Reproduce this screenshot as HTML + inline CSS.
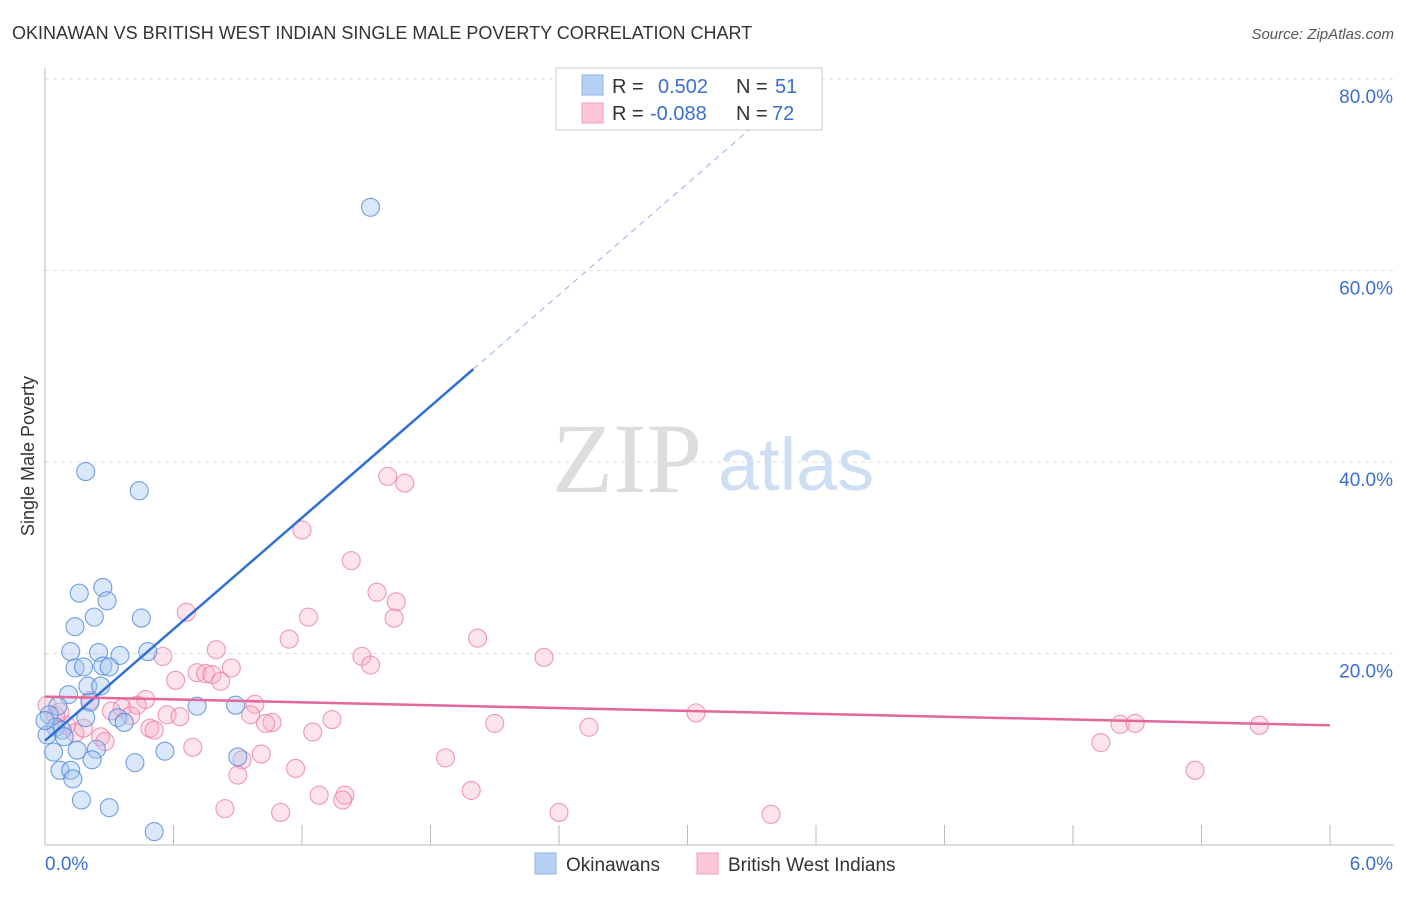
<!DOCTYPE html>
<html><head><meta charset="utf-8"><style>
body{margin:0;background:#fff;font-family:"Liberation Sans",sans-serif;}
svg text{font-family:"Liberation Sans",sans-serif;}
</style></head><body>
<svg id="chart" width="1406" height="892" xmlns="http://www.w3.org/2000/svg">
<text x="12" y="39" font-size="18" fill="#333">OKINAWAN VS BRITISH WEST INDIAN SINGLE MALE POVERTY CORRELATION CHART</text>
<text x="1394" y="39" font-size="15" fill="#555" text-anchor="end" font-style="italic">Source: ZipAtlas.com</text>
<g>
<text x="552" y="492" font-size="100" fill="#ddd" style="font-family:'Liberation Serif',serif">ZIP</text>
<text x="718" y="490" font-size="74" fill="#cfdff3">atlas</text>
</g>
<g id="grid"></g>
<g id="axes"></g>
<g id="pts"></g>
<g id="lines"></g>
<text transform="translate(34,456) rotate(-90)" font-size="18" fill="#333" text-anchor="middle">Single Male Poverty</text>
<g>
<rect x="556" y="68" width="266" height="62" fill="#fff" stroke="#ccc"/>
<rect x="582" y="75" width="21" height="20" fill="#b7d1f5" stroke="#8fb2e6"/>
<rect x="582" y="103" width="21" height="20" fill="#fcc6d6" stroke="#f0a0ba"/>
<text x="612" y="93" font-size="20" fill="#333">R =</text>
<text x="658" y="93" font-size="20" fill="#3a6fd0">0.502</text>
<text x="736" y="93" font-size="20" fill="#333">N =</text>
<text x="775" y="93" font-size="20" fill="#3a6fd0">51</text>
<text x="612" y="120" font-size="20" fill="#333">R =</text>
<text x="650" y="120" font-size="20" fill="#3a6fd0">-0.088</text>
<text x="736" y="120" font-size="20" fill="#333">N =</text>
<text x="772" y="120" font-size="20" fill="#3a6fd0">72</text>
</g>
<g>
<rect x="535" y="853" width="21" height="21" fill="#b7d1f5" stroke="#8fb2e6"/>
<text x="566" y="871" font-size="19" fill="#333">Okinawans</text>
<rect x="697" y="853" width="21" height="21" fill="#fcc6d6" stroke="#f0a0ba"/>
<text x="728" y="871" font-size="19" fill="#333">British West Indians</text>
</g>
</svg>
<script>
const blueX=[0.19,0.44,1.52,0.16,0.27,0.29,0.14,0.23,0.45,0.12,0.25,0.35,0.48,0.14,0.18,0.27,0.30,0.11,0.20,0.26,0.21,0.71,0.89,0.06,0.02,0.19,0.34,0.05,0.08,0.01,0.09,0.04,0.15,0.24,0.56,0.90,0.07,0.12,0.22,0.42,0.13,0.17,0.30,0.51,0.37,0.0];
const blueY=[39.0,37.0,66.6,26.3,26.9,25.5,22.8,23.8,23.7,20.2,20.1,19.8,20.2,18.5,18.6,18.7,18.6,15.7,16.6,16.6,14.9,14.5,14.6,14.5,13.6,13.3,13.3,12.3,12.0,11.5,11.3,9.7,9.9,10.0,9.8,9.2,7.8,7.8,8.9,8.6,6.9,4.7,3.9,1.4,12.8,13.0];
const pinkX=[1.60,1.68,1.20,1.43,1.55,1.64,1.63,0.66,1.23,1.14,2.02,0.80,0.55,1.48,2.33,0.87,1.52,0.71,0.75,0.78,0.61,0.82,0.47,0.21,0.43,0.98,0.36,0.31,0.57,0.63,0.96,1.06,1.03,1.34,2.10,2.54,3.04,5.02,5.09,5.67,4.93,5.37,0.49,0.51,1.25,0.10,0.05,0.14,0.26,0.28,0.69,0.92,1.01,1.17,0.90,1.87,1.99,1.28,1.40,1.39,0.84,1.10,2.40,3.39,0.01,0.07,0.40,0.18];
const pinkY=[38.5,37.8,32.9,29.7,26.4,25.4,23.7,24.3,23.8,21.5,21.6,20.4,19.7,19.7,19.6,18.5,18.8,18.0,17.9,17.8,17.2,17.1,15.2,15.1,14.6,14.7,14.3,14.0,13.6,13.4,13.6,12.8,12.7,13.1,12.7,12.3,13.8,12.6,12.7,12.5,10.7,7.8,12.2,12.0,11.8,12.5,13.5,11.7,11.3,10.8,10.2,8.9,9.5,8.0,7.3,9.1,5.7,5.2,5.2,4.7,3.8,3.4,3.4,3.2,14.6,13.9,13.5,12.2];
const yTicks=[20,40,60,80];
const yTickLabels=["20.0%","40.0%","60.0%","80.0%"];
const xTicks=[0,0.6,1.2,1.8,2.4,3.0,3.6,4.2,4.8,5.4,6.0];
const blueTrend=[10.9,19.4];
const pinkTrend=[15.5,-0.5];
const X=v=>45+v/6*1285, Y=v=>845-v/80*766;
const NS="http://www.w3.org/2000/svg";
function mk(p,tag,a){const e=document.createElementNS(NS,tag);for(const k in a)e.setAttribute(k,a[k]);p.appendChild(e);return e;}
const grid=document.getElementById('grid'),axes=document.getElementById('axes');
yTicks.forEach((t,i)=>{
 const l=mk(grid,'line',{x1:45,x2:1394,y1:Y(t),y2:Y(t),stroke:'#ddd','stroke-dasharray':'4,4'});
 
 
 const tx=mk(axes,'text',{x:1393,y:Y(t)+24,'font-size':19,fill:'#3a6fd0','text-anchor':'end'});
 tx.textContent=yTickLabels[i];
 
 
});
mk(axes,'line',{x1:45,x2:45,y1:68,y2:845,stroke:'#bbb'});
mk(axes,'line',{x1:45,x2:1394,y1:845,y2:845,stroke:'#bbb'});
xTicks.slice(1).forEach(t=>{const l=mk(axes,'line',{x1:X(t),x2:X(t),y1:825,y2:845,stroke:'#bbb'});
 
 });
const x0=mk(axes,'text',{x:45,y:870,'font-size':19,fill:'#3a6fd0'});x0.textContent='0.0%';


const x1=mk(axes,'text',{x:1393,y:870,'font-size':19,fill:'#3a6fd0','text-anchor':'end'});x1.textContent='6.0%';


const pts=document.getElementById('pts');
pinkX.forEach((v,i)=>{const c=mk(pts,'circle',{cx:X(v),cy:Y(pinkY[i]),r:9,fill:'rgba(248,175,198,0.35)',stroke:'rgba(232,120,160,0.75)','stroke-width':1.1});
 
 });
blueX.forEach((v,i)=>{const c=mk(pts,'circle',{cx:X(v),cy:Y(blueY[i]),r:9,fill:'rgba(165,198,240,0.4)',stroke:'rgba(70,130,215,0.75)','stroke-width':1.1});
 
 });
const lines=document.getElementById('lines');
const bs=mk(lines,'line',{x1:X(0),y1:Y(blueTrend[0]),x2:X(2.0),y2:Y(blueTrend[0]+blueTrend[1]*2.0),stroke:'#2f6fd6','stroke-width':2.5});


const xe=(80-blueTrend[0])/blueTrend[1];
const bd=mk(lines,'line',{x1:X(2.0),y1:Y(blueTrend[0]+blueTrend[1]*2.0),x2:X(xe),y2:Y(80),stroke:'#8fb2e6','stroke-width':1,'stroke-dasharray':'6,5'});


const ps=mk(lines,'line',{x1:X(0),y1:Y(pinkTrend[0]),x2:X(6),y2:Y(pinkTrend[0]+pinkTrend[1]*6),stroke:'#e4679a','stroke-width':2.5});


</script>
</body></html>
